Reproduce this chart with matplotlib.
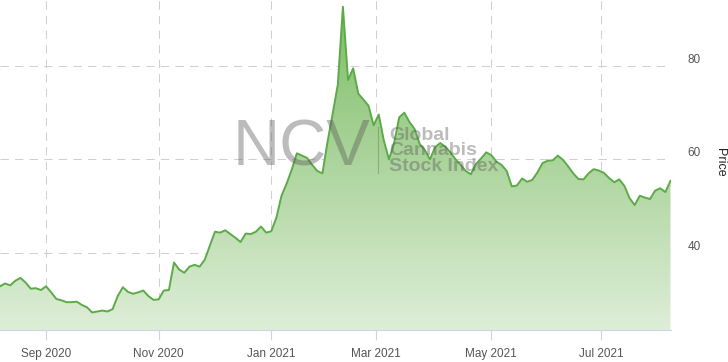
import numpy as np
import pandas as pd
import matplotlib
matplotlib.use('Agg')
import matplotlib.pyplot as plt
from matplotlib.colors import LinearSegmentedColormap

plt.rcParams['font.family'] = ['Liberation Sans', 'DejaVu Sans']

# price, one point every second business day from 2020-08-06
prices = [
    32.8, 33.4, 33.0, 34.0, 34.6, 33.6, 32.3, 32.4, 32.0, 32.8,
    31.5, 30.1, 29.8, 29.4, 29.4, 29.5, 28.8, 28.3, 27.2, 27.4,
    27.6, 27.4, 27.9, 30.7, 32.6, 31.6, 31.2, 31.5, 31.9, 30.7,
    29.9, 30.0, 31.9, 32.0, 37.9, 36.4, 35.7, 37.0, 37.4, 37.0,
    38.5, 41.5, 44.5, 44.3, 44.8, 44.0, 43.2, 42.3, 44.1, 44.0,
    44.5, 45.6, 44.3, 44.6, 47.5, 52.2, 54.8, 57.8, 61.3, 60.8,
    60.3, 58.8, 57.5, 57.0, 63.8, 69.8, 76.0, 92.7, 77.0, 79.5,
    74.1, 72.8, 71.5, 67.3, 69.6, 64.0, 60.0, 63.5, 69.0, 70.0,
    68.0, 66.5, 63.3, 62.0, 60.0, 62.6, 63.5, 62.7, 61.5, 60.0,
    58.8, 57.5, 56.8, 59.0, 60.2, 61.5, 60.9, 59.5, 58.8, 57.5,
    54.2, 54.4, 55.9, 55.2, 55.6, 57.2, 59.2, 59.7, 59.8, 60.8,
    59.9, 58.5, 57.0, 55.8, 55.7, 57.0, 57.9, 57.6, 57.1, 56.0,
    55.1, 55.7, 54.3, 51.7, 50.2, 52.2, 51.8, 51.5, 53.3, 53.8,
    53.0, 55.4,
]
dates = pd.bdate_range('2020-08-06', periods=len(prices), freq='2B')
y_ticks = [40, 60, 80]
x_tick_months = ['2020-09', '2020-11', '2021-01', '2021-03', '2021-05', '2021-07']

# ordinal (business day) x axis
all_days = pd.bdate_range('2020-08-06', '2021-08-31')
xpos = all_days.get_indexer(dates)
month_keys = all_days.strftime('%Y-%m')
tick_pos = [int(np.argmax(month_keys == m)) for m in x_tick_months]
tick_lab = [all_days[p].strftime('%b %Y') for p in tick_pos]

fig = plt.figure(figsize=(7.28, 3.62), dpi=100)
ax = fig.add_axes([0, 32 / 362, 671 / 728, 330 / 362])

ymin, ymax = 23.44, 94.14
xmin, xmax = 0, 262.2
ax.set_xlim(xmin, xmax)
ax.set_ylim(ymin, ymax)

# gradient area
cmap = LinearSegmentedColormap.from_list('g', ['#7cbc63', '#deeed8'])
grad = np.linspace(0, 1, 256).reshape(-1, 1)
poly = ax.fill_between(xpos, prices, ymin, color='none', lw=0)
img = ax.imshow(grad, cmap=cmap, aspect='auto', extent=[xmin, xmax, ymin, ymax],
                origin='upper', zorder=1)
img.set_clip_path(poly.get_paths()[0], transform=ax.transData)
ax.plot(xpos, prices, color='#5caa48', lw=1.4, zorder=3)

# grid
ax.set_yticks(y_ticks)
ax.set_xticks(tick_pos)
ax.set_xticklabels(tick_lab)
ax.grid(True, color='#d0d0d0', lw=0.75, linestyle=(0, (8, 6)), zorder=0)
ax.set_axisbelow(True)

for s in ['top', 'left', 'right']:
    ax.spines[s].set_visible(False)
ax.spines['bottom'].set_color('#ccd6eb')
ax.spines['bottom'].set_linewidth(0.8)

ax.tick_params(axis='x', length=7, width=0.8, color='#ccd6eb', pad=6,
               labelsize=8.5, labelcolor='#555555')
ax.yaxis.tick_right()
ax.tick_params(axis='y', length=0, pad=12, labelsize=8.5, labelcolor='#555555')
for lbl in ax.get_yticklabels():
    lbl.set_va('bottom')

fig.text(720 / 728, 1 - 162 / 362, 'Price', rotation=270, ha='center', va='center',
         fontsize=9, color='#222222')

# watermark logo
ax.text(302 / 671, 1 - 149 / 330, 'NCV', transform=ax.transAxes, ha='center', va='center',
        fontsize=47, color='#585858', alpha=0.4, zorder=4)
ax.plot([378 / 671, 378 / 671], [1 - 127 / 330, 1 - 173 / 330], transform=ax.transAxes,
        color='#585858', alpha=0.35, lw=0.8, zorder=4)
ax.text(389 / 671, 1 - 151 / 330, 'Global\nCannabis\nStock Index', transform=ax.transAxes,
        ha='left', va='center', fontsize=14, fontweight='bold', linespacing=0.9,
        color='#585858', alpha=0.4, zorder=4)

fig.savefig('out.png', dpi=100)
